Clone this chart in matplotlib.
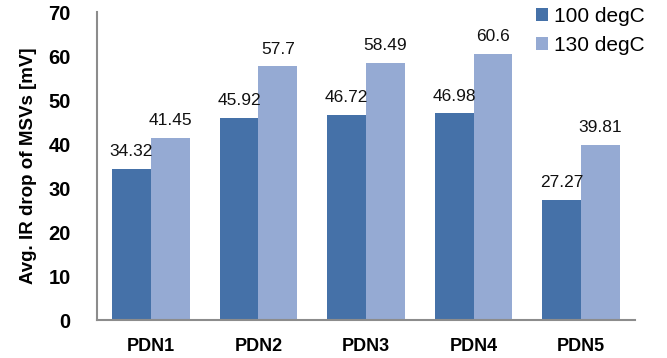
import numpy as np
import matplotlib.pyplot as plt

plt.rcParams['font.family'] = ['Liberation Sans', 'DejaVu Sans']

categories = ['PDN1', 'PDN2', 'PDN3', 'PDN4', 'PDN5']
drop_100 = [34.32, 45.92, 46.72, 46.98, 27.27]
drop_130 = [41.45, 57.7, 58.49, 60.6, 39.81]
labels_100 = ['34.32', '45.92', '46.72', '46.98', '27.27']
labels_130 = ['41.45', '57.7', '58.49', '60.6', '39.81']

c_dark = '#4571a8'
c_light = '#95aad3'

fig = plt.figure(figsize=(6.67, 3.58), dpi=100)
ax = fig.add_axes([0.1454, 0.106, 0.8066, 0.860])

x = np.arange(len(categories))
w = 0.36
b1 = ax.bar(x - w/2, drop_100, w, color=c_dark, label='100 degC')
b2 = ax.bar(x + w/2, drop_130, w, color=c_light, label='130 degC')

for bars, labs in ((b1, labels_100), (b2, labels_130)):
    for r, t in zip(bars, labs):
        ax.text(r.get_x() + r.get_width()/2, r.get_height() + 2.2, t,
                ha='center', va='bottom', fontsize=12.5, color='#111111')

ax.set_xlim(-0.5, len(categories) - 0.5)
ax.set_ylim(0, 70)
ax.set_yticks(range(0, 71, 10))
ax.set_xticks(x)
ax.set_xticklabels(categories, fontsize=13, fontweight='bold')
ax.tick_params(axis='y', labelsize=14.5, length=0, pad=19)
ax.tick_params(axis='x', length=0, pad=13)
for t in ax.get_yticklabels():
    t.set_fontweight('bold')
ax.set_ylabel('Avg. IR drop of MSVs [mV]', fontsize=13.5, fontweight='bold', labelpad=8)

for s in ['top', 'right']:
    ax.spines[s].set_visible(False)
for s in ['left', 'bottom']:
    ax.spines[s].set_color('#8c8c8c')
    ax.spines[s].set_linewidth(1.5)

ax.legend(loc='upper left', bbox_to_anchor=(0.8, 1.045), frameon=False,
          fontsize=15, handlelength=0.6, handleheight=0.6, handletextpad=0.3,
          labelspacing=0.5, borderaxespad=0)

fig.savefig('out.png', dpi=100)
